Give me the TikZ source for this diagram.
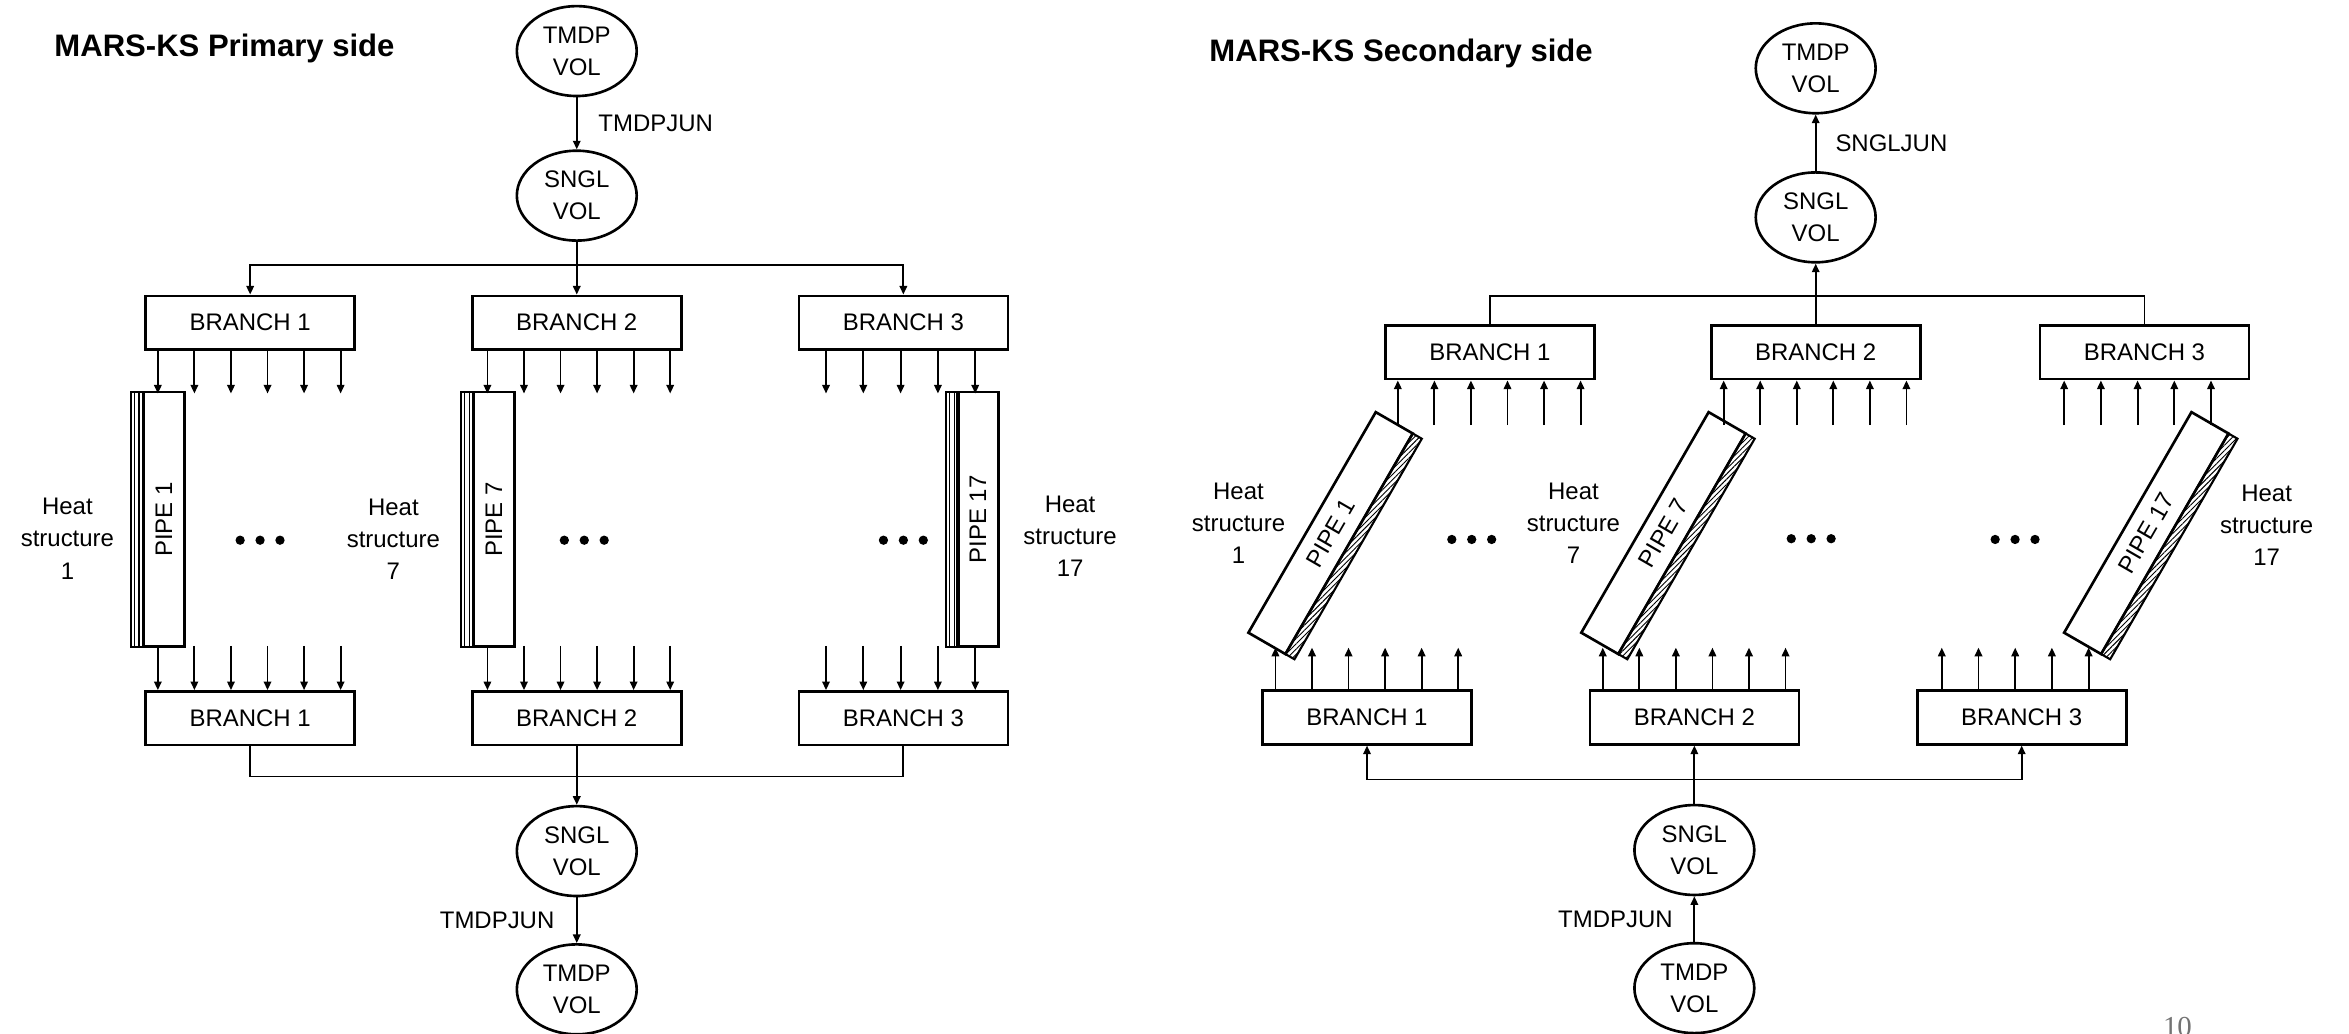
\documentclass[tikz,border=0pt]{standalone}
\usepackage{fontspec}
\setmainfont{Liberation Sans}
\newfontfamily\pagenofont{Liberation Serif}
\usetikzlibrary{shapes.geometric,arrows.meta,calc,patterns.meta}

\begin{document}
\begin{tikzpicture}[x=0.2mm, y=0.2mm,
    font=\fontsize{9.1pt}{12.2pt}\selectfont,
    volnode/.style={ellipse, draw, line width=1pt, minimum width=16mm, minimum height=12mm, inner sep=0pt, align=center},
    branchbox/.style={rectangle, draw, line width=1pt, minimum width=27.9mm, minimum height=7.16mm, inner sep=0pt},
    pipebox/.style={rectangle, draw, line width=1pt, minimum width=34mm, inner sep=0pt, outer sep=0pt},
    hatchband/.style={draw, line width=0.8pt, pattern={Lines[angle=45, distance=1.4pt, line width=0.35pt]}},
    flowarrow/.style={-{Triangle[length=1.15mm, width=1mm]}, line width=0.7pt},
    link/.style={line width=0.7pt},
    hslabel/.style={align=center, inner sep=0pt},
    sidetitle/.style={font=\bfseries\fontsize{11.8pt}{14pt}\selectfont, anchor=base west, inner sep=0pt}]

    \useasboundingbox (0,0) rectangle (1568,689.6);

    % ---------------- Primary side ----------------
    \node[sidetitle] (pTitle) at (36,652) {MARS-KS Primary side};
    \node[volnode] (pTmdpIn) at (385,655.5) {TMDP\\VOL};
    \node[volnode] (pSnglIn) at (385,559) {SNGL\\VOL};
    \draw[flowarrow] (pTmdpIn) -- node[right=1.6mm] {TMDPJUN} (pSnglIn);

    % Upper branches
    \node[branchbox] (pTop1) at (167,474.2) {BRANCH 1};
    \node[branchbox] (pTop2) at (385,474.2) {BRANCH 2};
    \node[branchbox] (pTop3) at (603,474.2) {BRANCH 3};
    \coordinate (pSplit) at (385,512.6);
    \draw[flowarrow] (pSnglIn) -- (pTop2);
    \draw[flowarrow] (pSplit) -| (pTop1);
    \draw[flowarrow] (pSplit) -| (pTop3);

    % Lower branches
    \node[branchbox] (pBot1) at (167,210.15) {BRANCH 1};
    \node[branchbox] (pBot2) at (385,210.15) {BRANCH 2};
    \node[branchbox] (pBot3) at (603,210.15) {BRANCH 3};

    % Pipes with heat structure layers
    \foreach \bx in {87.2,307.5,631.3}{
        \draw[line width=0.8pt] (\bx,257.9) rectangle ++(8.5,170);
        \draw[line width=0.4pt] (\bx+2.8,257.9) -- ++(0,170);
        \draw[line width=0.4pt] (\bx+5.6,257.9) -- ++(0,170);
    }
    \node[pipebox, rotate=90, minimum height=5.46mm] (pP1) at (109.4,342.9) {PIPE 1};
    \node[pipebox, rotate=90, minimum height=5.46mm] (pP7) at (329.6,342.9) {PIPE 7};
    \node[pipebox, rotate=90, minimum height=5.46mm] (pP17) at (652.8,342.9) {PIPE 17};

    % Junction arrows
    \foreach \i/\o/\d/\n in {1/9/24.4/5, 2/11/24.4/5, 3/19/24.9/4}{
        \foreach \k in {0,...,\n}{
            \draw[flowarrow] ($(pTop\i.south west)+(\o+\d*\k,0)$) -- ++(0,-28.5);
            \draw[flowarrow] ($(pBot\i.north west)+(\o+\d*\k,29.6)$) -- ++(0,-29.6);
        }
    }

    \node[hslabel] (pHs1) at (45,330) {Heat\\structure\\1};
    \node[hslabel] (pHs7) at (262.6,329.5) {Heat\\structure\\7};
    \node[hslabel] (pHs17) at (714.3,331.7) {Heat\\structure\\17};

    % Outlet
    \coordinate (pMerge) at (385,171.3);
    \draw[link] (pBot1) |- (pMerge) -| (pBot3);
    \node[volnode] (pSnglOut) at (385,121.5) {SNGL\\VOL};
    \node[volnode] (pTmdpOut) at (385,29.2) {TMDP\\VOL};
    \draw[flowarrow] (pBot2) -- (pSnglOut);
    \draw[flowarrow] (pSnglOut) -- node[left=1.7mm] {TMDPJUN} (pTmdpOut);

    % ---------------- Secondary side ----------------
    \node[sidetitle] (sTitle) at (807,648.8) {MARS-KS Secondary side};
    \node[volnode] (sTmdpOut) at (1212,644) {TMDP\\VOL};
    \node[volnode] (sSnglOut) at (1212,544.5) {SNGL\\VOL};
    \draw[flowarrow] (sSnglOut) -- node[right=1.35mm] {SNGLJUN} (sTmdpOut);

    % Upper branches
    \node[branchbox] (sTop1) at (994.5,454.4) {BRANCH 1};
    \node[branchbox] (sTop2) at (1212,454.4) {BRANCH 2};
    \node[branchbox] (sTop3) at (1431.5,454.4) {BRANCH 3};
    \coordinate (sJoin) at (1212,492);
    \draw[link] (sTop1) |- (sJoin) -| (sTop3);
    \draw[flowarrow] (sTop2) -- (sSnglOut);

    % Lower branches
    \node[branchbox] (sBot1) at (912.5,210.7) {BRANCH 1};
    \node[branchbox] (sBot2) at (1131,210.7) {BRANCH 2};
    \node[branchbox] (sBot3) at (1349.5,210.7) {BRANCH 3};

    % Inclined pipes
    \foreach \i/\px in {1/891.2, 7/1113.4, 17/1435.7}{
        \node[pipebox, rotate=60, minimum height=5.7mm] (sP\i) at ($(\px,332)+(-3.03,1.75)$) {PIPE \i};
        \draw[hatchband] (sP\i.south west) -- (sP\i.south east)
            -- ($(sP\i.south east)+(-30:7)$) -- ($(sP\i.south west)+(-30:7)$) -- cycle;
    }

    % Junction arrows
    \foreach \i/\o/\d/\n in {1/9.2/24.4/5, 2/9.2/24.4/5, 3/17/24.5/4}{
        \foreach \k in {0,...,\n}{
            \draw[flowarrow] ($(sTop\i.south west)+(\o+\d*\k,-29.8)$) -- ++(0,29.8);
            \draw[flowarrow] ($(sBot\i.north west)+(\o+0.3+\d*\k,0)$) -- ++(0,27.8);
        }
    }

    \node[hslabel] (sHs1) at (826.7,340.2) {Heat\\structure\\1};
    \node[hslabel] (sHs7) at (1050.3,340.2) {Heat\\structure\\7};
    \node[hslabel] (sHs17) at (1513,339.1) {Heat\\structure\\17};

    % Inlet
    \coordinate (sSplit) at (1131,169.3);
    \draw[flowarrow] (sSplit) -| (sBot1);
    \draw[flowarrow] (sSplit) -| (sBot3);
    \node[volnode] (sSnglIn) at (1131,122.2) {SNGL\\VOL};
    \node[volnode] (sTmdpIn) at (1131,30) {TMDP\\VOL};
    \draw[flowarrow] (sSnglIn) -- (sBot2);
    \draw[flowarrow] (sTmdpIn) -- node[left=1.6mm] {TMDPJUN} (sSnglIn);

    % Dots between pipes
    \foreach \dx/\dy in {173.6/329, 390/329, 603/329, 982.4/329.5, 1209/330, 1345.1/329.5}
        \foreach \k in {-1,0,1}
            \fill (\dx+13.3*\k,\dy) circle (3.1);

    \node[anchor=north, inner sep=0pt, text=black!55, font=\pagenofont\fontsize{11pt}{13pt}\selectfont] (pageNo) at (1453.5,11) {10};
\end{tikzpicture}
\end{document}
